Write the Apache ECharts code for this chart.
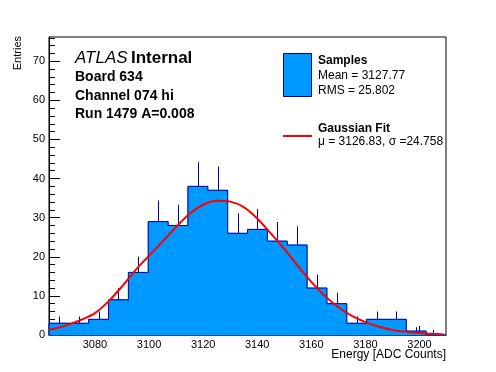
<!DOCTYPE html>
<html><head><meta charset="utf-8">
<script src="https://cdn.jsdelivr.net/npm/echarts@6/dist/echarts.min.js"></script>
<style>html,body{margin:0;padding:0;background:#fff}#c{width:496px;height:372px}</style>
</head><body><div id="c"></div>
<script>
// ---- data ----
const histMin = 3063;
const histMax = 3209.8;
const binCounts = [3, 3, 4, 9, 16, 29, 28, 38, 37, 26, 27, 24, 23, 12, 8, 3, 4, 4, 1, 0];
const fitX = [3063, 3065, 3070, 3075, 3080, 3085, 3090, 3095, 3100, 3105, 3110, 3115, 3120, 3125, 3130, 3135, 3140, 3145, 3150, 3155, 3160, 3165, 3170, 3175, 3180, 3185, 3190, 3195, 3200, 3205, 3209];
const fitY = [1.4, 1.6, 2.6, 3.9, 5.6, 8.6, 12.4, 16.6, 20.3, 23.9, 27.6, 31.0, 33.3, 34.3, 34.1, 32.7, 29.8, 26.0, 22.0, 17.7, 13.6, 10.0, 7.1, 4.9, 3.3, 2.1, 1.3, 0.8, 0.5, 0.3, 0.15];
const xMajorTicks = [3080, 3100, 3120, 3140, 3160, 3180, 3200];
const xMinorTicks = [3065, 3070, 3075, 3085, 3090, 3095, 3105, 3110, 3115, 3125, 3130, 3135, 3145, 3150, 3155, 3165, 3170, 3175, 3185, 3190, 3195, 3205];
const yMajorTicks = [0, 10, 20, 30, 40, 50, 60, 70];
const yMinorTicks = [2, 4, 6, 8, 12, 14, 16, 18, 22, 24, 26, 28, 32, 34, 36, 38, 42, 44, 46, 48, 52, 54, 56, 58, 62, 64, 66, 68, 72, 74, 76];
const yMax = 76.2;
const titleLines = ['Board 634', 'Channel 074 hi', 'Run 1479 A=0.008'];
const statsMean = '3127.77';
const statsRMS = '25.802';
const fitMu = '3126.83';
const fitSigma = '24.758';

// ---- build ----
const binWidth = (histMax - histMin) / binCounts.length;
const histData = binCounts.map((n, i) => [histMin + i * binWidth, histMin + (i + 1) * binWidth, n, i > 0 ? binCounts[i - 1] : 0, i === binCounts.length - 1 ? 1 : 0]);
const fitData = fitX.map((x, i) => [x, fitY[i]]);

const FONT = 'Liberation Sans, Arial, Helvetica, sans-serif';
const FILL = '#0099ff';
const EDGE = '#000099';
const plain = v => String(v);

const chart = echarts.init(document.getElementById('c'), null, {renderer: 'canvas'});

function axisCommonX(extra) {
  return Object.assign({type: 'value', min: histMin, max: histMax, position: 'bottom', splitLine: {show: false}}, extra);
}
function axisCommonY(extra) {
  return Object.assign({type: 'value', min: 0, max: yMax, position: 'left', splitLine: {show: false}}, extra);
}

const option = {
  backgroundColor: '#ffffff',
  animation: false,
  grid: {left: 49, top: 37, width: 397, height: 298, show: true, borderColor: '#000', borderWidth: 1, backgroundColor: 'transparent'},
  xAxis: [
    axisCommonX({
      axisLine: {show: true, lineStyle: {color: '#000', width: 1}},
      axisTick: {show: true, inside: true, length: 9, customValues: xMajorTicks, lineStyle: {color: '#000'}},
      axisLabel: {customValues: xMajorTicks, formatter: plain, color: '#000', fontSize: 11, fontFamily: FONT, margin: 4}
    }),
    axisCommonX({
      axisLine: {show: false},
      axisTick: {show: true, inside: true, length: 5, customValues: xMinorTicks, lineStyle: {color: '#000'}},
      axisLabel: {show: false}
    })
  ],
  yAxis: [
    axisCommonY({
      axisLine: {show: true, lineStyle: {color: '#000', width: 1}},
      axisTick: {show: true, inside: true, length: 11, customValues: yMajorTicks, lineStyle: {color: '#000'}},
      axisLabel: {customValues: yMajorTicks, formatter: plain, color: '#000', fontSize: 11, fontFamily: FONT, margin: 4}
    }),
    axisCommonY({
      axisLine: {show: false},
      axisTick: {show: true, inside: true, length: 6, customValues: yMinorTicks, lineStyle: {color: '#000'}},
      axisLabel: {show: false}
    })
  ],
  series: [
    {
      name: 'Samples', type: 'custom', z: 1,
      data: histData, encode: {x: [0, 1], y: 2},
      renderItem: function (params, api) {
        const a = api.coord([api.value(0), api.value(2)]);
        const b = api.coord([api.value(1), 0]);
        return {type: 'rect', shape: {x: a[0], y: a[1], width: b[0] - a[0], height: b[1] - a[1]}, style: {fill: FILL, stroke: FILL, lineWidth: 1}};
      }
    },
    {
      name: 'SamplesOutline', type: 'custom', z: 2,
      data: histData, encode: {x: [0, 1], y: 2},
      renderItem: function (params, api) {
        const x0 = api.value(0), x1 = api.value(1), n = api.value(2), prev = api.value(3), last = api.value(4);
        const tl = api.coord([x0, n]);
        const tr = api.coord([x1, n]);
        const pl = api.coord([x0, prev]);
        const ls = {stroke: EDGE, lineWidth: 1};
        const children = [
          {type: 'line', shape: {x1: tl[0], y1: tl[1], x2: tr[0], y2: tr[1]}, style: ls},
          {type: 'line', shape: {x1: pl[0], y1: pl[1], x2: tl[0], y2: tl[1]}, style: ls}
        ];
        if (last) {
          const br = api.coord([x1, 0]);
          children.push({type: 'line', shape: {x1: tr[0], y1: tr[1], x2: br[0], y2: br[1]}, style: ls});
        }
        if (n > 0) {
          const c = (x0 + x1) / 2;
          const e0 = api.coord([c, n]);
          const e1 = api.coord([c, n + Math.sqrt(n)]);
          children.push({type: 'line', shape: {x1: Math.round(e0[0]) + 0.5, y1: e0[1], x2: Math.round(e1[0]) + 0.5, y2: e1[1]}, style: ls});
        }
        return {type: 'group', children: children};
      }
    },
    {
      name: 'Gaussian Fit', type: 'line', z: 3,
      data: fitData, smooth: 0.3, showSymbol: false, symbol: 'none',
      lineStyle: {color: '#ff0000', width: 2}, clip: true
    }
  ],
  graphic: [
    {type: 'text', x: 18, y: 36, rotation: Math.PI / 2, style: {text: 'Entries', font: '11px ' + FONT, fill: '#000', textAlign: 'right', textVerticalAlign: 'middle'}},
    {type: 'text', x: 446, y: 355, style: {text: 'Energy [ADC Counts]', font: '12px ' + FONT, fill: '#000', textAlign: 'right', textVerticalAlign: 'middle'}},
    {type: 'text', x: 75, y: 58, style: {
      text: '{a|ATLAS} {b|Internal}', textVerticalAlign: 'middle',
      rich: {a: {font: 'italic 17px ' + FONT, fill: '#000'}, b: {font: 'bold 17px ' + FONT, fill: '#000'}}
    }},
    {type: 'text', x: 75, y: 77, style: {text: titleLines[0], font: 'bold 14px ' + FONT, fill: '#000', textVerticalAlign: 'middle'}},
    {type: 'text', x: 75, y: 96, style: {text: titleLines[1], font: 'bold 14px ' + FONT, fill: '#000', textVerticalAlign: 'middle'}},
    {type: 'text', x: 75, y: 114, style: {text: titleLines[2], font: 'bold 14px ' + FONT, fill: '#000', textVerticalAlign: 'middle'}},
    {type: 'rect', shape: {x: 283.5, y: 53.5, width: 28, height: 43}, style: {fill: FILL, stroke: EDGE, lineWidth: 1}},
    {type: 'text', x: 318, y: 61, style: {text: 'Samples', font: 'bold 12px ' + FONT, fill: '#000', textVerticalAlign: 'middle'}},
    {type: 'text', x: 318, y: 76, style: {text: 'Mean = ' + statsMean, font: '12px ' + FONT, fill: '#000', textVerticalAlign: 'middle'}},
    {type: 'text', x: 318, y: 91, style: {text: 'RMS = ' + statsRMS, font: '12px ' + FONT, fill: '#000', textVerticalAlign: 'middle'}},
    {type: 'line', shape: {x1: 283, y1: 136, x2: 312, y2: 136}, style: {stroke: '#ff0000', lineWidth: 2}},
    {type: 'text', x: 318, y: 129, style: {text: 'Gaussian Fit', font: 'bold 12px ' + FONT, fill: '#000', textVerticalAlign: 'middle'}},
    {type: 'text', x: 318, y: 142, style: {text: '\u03bc = ' + fitMu + ', \u03c3 =' + fitSigma, font: '12px ' + FONT, fill: '#000', textVerticalAlign: 'middle'}}
  ]
};
chart.setOption(option);
</script></body></html>
